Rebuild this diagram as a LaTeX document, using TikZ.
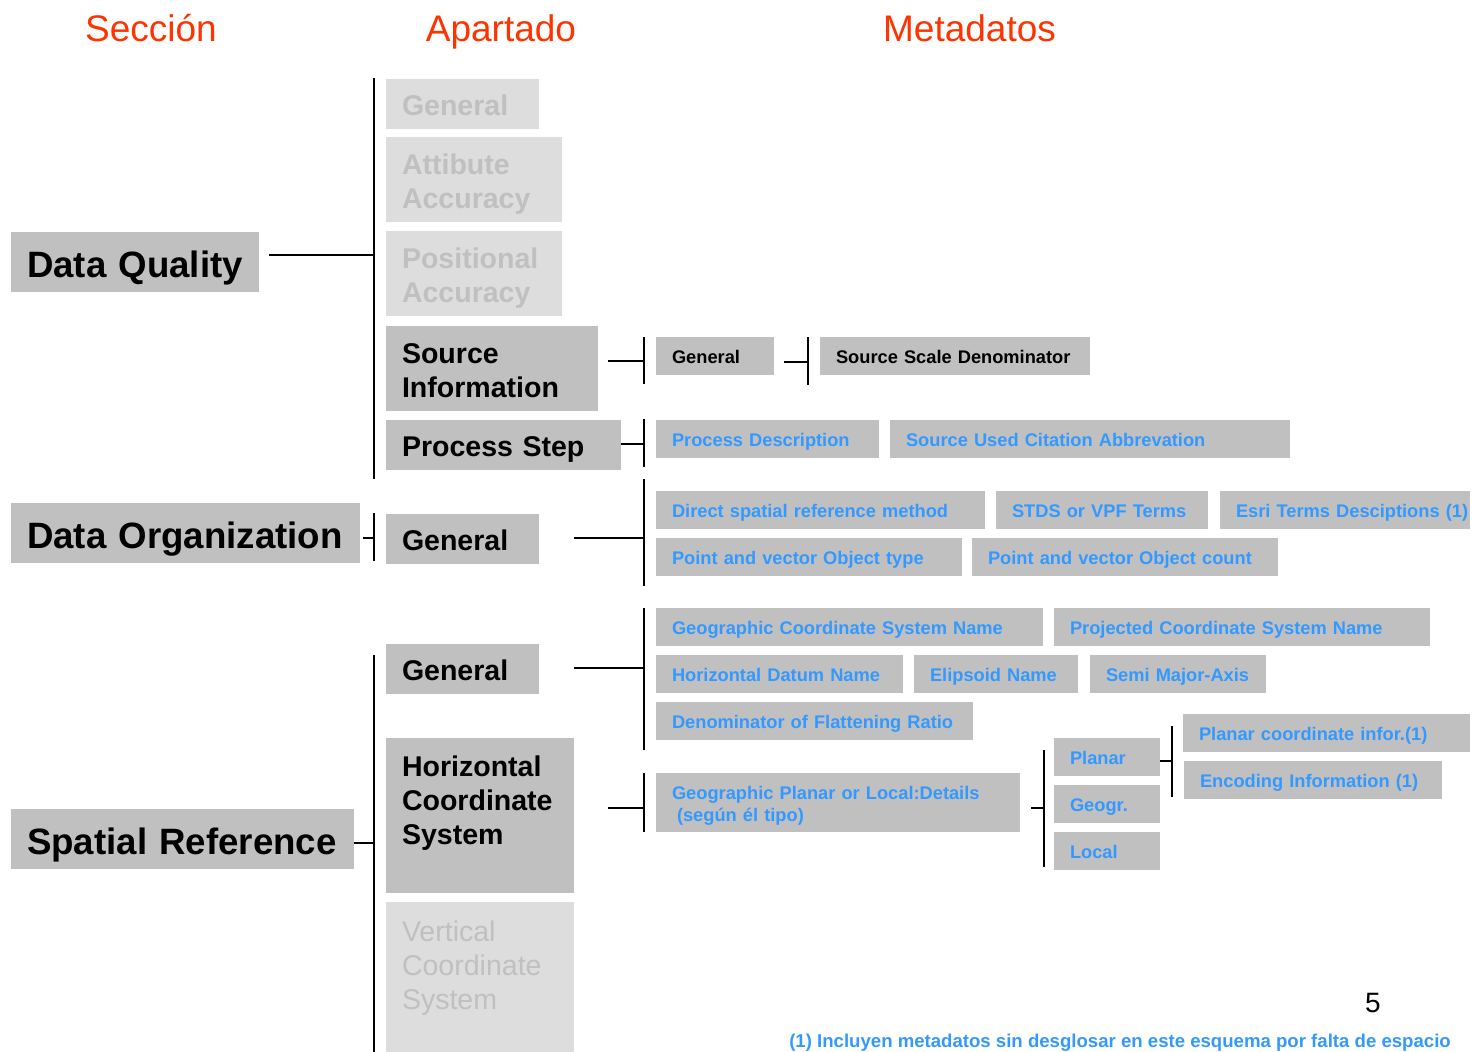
\documentclass[tikz,border=0pt]{standalone}
\usepackage{fontspec}
\setmainfont{Liberation Sans}
\definecolor{boxgrey}{HTML}{C0C0C0}
\definecolor{palegrey}{HTML}{DDDDDD}
\definecolor{paletext}{HTML}{C0C0C0}
\definecolor{metablue}{HTML}{3399FF}
\definecolor{headred}{HTML}{FF3300}

% line box of the font: ascent on the first line, descent on the last
\newcommand\topstrut{\rule{0pt}{1.05em}}
\newcommand\botstrut{\rule[-0.212em]{0pt}{0.212em}}

% \panel{style}{name}{x1}{y1}{x2}{y2}{text}: grey box from (x1,y1) to (x2,y2)
\newcommand\panel[7]{%
  \pgfmathsetlengthmacro\panelw{(#5-#3-32)*0.75pt}%
  \pgfmathsetlengthmacro\panelh{(#6-#4)*0.75pt}%
  \node[#1, text width=\panelw, minimum height=\panelh] (#2) at ({(#3+#5)/2},{(#4+#6)/2}) {\topstrut#7\botstrut};}

\tikzset{
  panel/.style={inner xsep=12pt, inner ysep=0pt, align=left, anchor=center},
  sect/.style={panel, fill=boxgrey, font=\fontsize{27.5}{33}\selectfont\bfseries},
  part/.style={panel, fill=boxgrey, font=\fontsize{21.4}{25.5}\selectfont\bfseries},
  partoff/.style={part, fill=palegrey, text=paletext},
  partoffreg/.style={partoff, font=\fontsize{21.4}{25.5}\selectfont},
  meta/.style={panel, fill=boxgrey, text=metablue, font=\fontsize{13.7}{16.5}\selectfont\bfseries},
  metak/.style={meta, text=black},
  head/.style={text=headred, anchor=base, font=\fontsize{27.75}{33}\selectfont},
  link/.style={draw=black, line width=0.9pt},
}

\begin{document}
\hyphenpenalty=10000 \exhyphenpenalty=10000
\begin{tikzpicture}[x=0.75pt, y=-0.75pt]
\useasboundingbox (0,0) rectangle (1472,1052);

% column headings
\node[head] (hsec) at (151,42) {Sección};
\node[head] (hapt) at (501,42) {Apartado};
\node[head] (hmeta) at (969.5,42) {Metadatos};

% sections
\panel{sect}{dq}{11}{232}{259}{292}{Data~Quality}
\panel{sect}{do}{11}{503}{360}{563}{Data~Organization}
\panel{sect}{sr}{11}{809}{354}{869}{Spatial~Reference}

% subsections
\panel{partoff}{dqgen}{386}{79}{539}{129}{General}
\panel{partoff}{att}{386}{137}{562}{222}{Attibute\\Accuracy}
\panel{partoff}{pos}{386}{231}{562}{316}{Positional\\Accuracy}
\panel{part}{src}{386}{326}{598}{411}{Source\\Information}
\panel{part}{proc}{386}{420}{621}{470}{Process~Step}
\panel{part}{dogen}{386}{514}{539}{564}{General}
\panel{part}{srgen}{386}{644}{539}{694}{General}
\panel{part}{hcs}{386}{738}{574}{893}{Horizontal\\Coordinate\\System\\~}
\panel{partoffreg}{vcs}{386}{902}{574}{1060}{Vertical\\Coordinate\\System\\~}

% metadata items
\panel{metak}{srcgen}{656}{337}{774}{375}{General}
\panel{metak}{ssd}{820}{337}{1090}{375}{Source~Scale~Denominator}
\panel{meta}{pd}{656}{420}{879}{458}{Process~Description}
\panel{meta}{suca}{890}{420}{1290}{458}{Source~Used~Citation~Abbrevation}
\panel{meta}{dsrm}{656}{491}{985}{529}{Direct~spatial~reference~method}
\panel{meta}{stds}{996}{491}{1208}{529}{STDS~or~VPF~Terms}
\panel{meta}{esri}{1220}{491}{1470}{529}{\mbox{Esri~Terms~Desciptions~(1)}}
\panel{meta}{pvot}{656}{538}{962}{576}{Point~and~vector~Object~type}
\panel{meta}{pvoc}{972}{538}{1278}{576}{Point~and~vector~Object~count}
\panel{meta}{gcsn}{656}{608}{1043}{646}{Geographic~Coordinate~System~Name}
\panel{meta}{pcsn}{1054}{608}{1430}{646}{Projected~Coordinate~System~Name}
\panel{meta}{hdn}{656}{655}{903}{693}{Horizontal~Datum~Name}
\panel{meta}{eln}{914}{655}{1078}{693}{Elipsoid~Name}
\panel{meta}{sma}{1090}{655}{1266}{693}{Semi~Major-Axis}
\panel{meta}{dfr}{656}{702}{973}{740}{Denominator~of~Flattening~Ratio}
\panel{meta}{gpl}{656}{773}{1020}{832}{Geographic~Planar~or~Local:Details\\\hspace*{3.75pt}(según~él~tipo)}
\panel{meta}{planar}{1054}{738}{1160}{776}{Planar}
\panel{meta}{geogr}{1054}{785}{1160}{823}{Geogr.}
\panel{meta}{local}{1054}{832}{1160}{870}{Local}
\panel{meta}{pci}{1183}{714}{1470}{752}{Planar~coordinate~infor.(1)}
\panel{meta}{enc}{1184}{761}{1442}{799}{Encoding~Information~(1)}

% bracket lines: Data Quality
\coordinate (dqa) at (269,255);  \coordinate (dqj) at (374,255);
\coordinate (dqt) at (374,78);   \coordinate (dqb) at (374,479);
\draw[link] (dqt) -- (dqb);  \draw[link] (dqa) -- (dqj);
% Data Organization
\coordinate (doa) at (363,538);  \coordinate (doj) at (374,538);
\coordinate (dot) at (374,513);  \coordinate (dob) at (374,561);
\draw[link] (dot) -- (dob);  \draw[link] (doa) -- (doj);
% Spatial Reference
\coordinate (sra) at (354,843);  \coordinate (srj) at (374,843);
\coordinate (srt) at (374,655);  \coordinate (srb) at (374,1060);
\draw[link] (srt) -- (srb);  \draw[link] (sra) -- (srj);

% Source Information -> General
\coordinate (sia) at (608,361);  \coordinate (sij) at (644,361);
\coordinate (sit) at (644,337);  \coordinate (sib) at (644,384);
\draw[link] (sit) -- (sib);  \draw[link] (sia) -- (sij);
% General -> Source Scale Denominator
\coordinate (sga) at (784,362);  \coordinate (sgj) at (808,362);
\coordinate (sgt) at (808,337);  \coordinate (sgb) at (808,385);
\draw[link] (sgt) -- (sgb);  \draw[link] (sga) -- (sgj);
% Process Step
\coordinate (psj) at (644,444);
\coordinate (pst) at (644,419);  \coordinate (psb) at (644,467);
\draw[link] (pst) -- (psb);  \draw[link] (proc.east |- psj) -- (psj);
% Data Organization / General
\coordinate (oga) at (574,538);  \coordinate (ogj) at (644,538);
\coordinate (ogt) at (644,479);  \coordinate (ogb) at (644,586);
\draw[link] (ogt) -- (ogb);  \draw[link] (oga) -- (ogj);
% Spatial Reference / General
\coordinate (rga) at (574,668);  \coordinate (rgj) at (644,668);
\coordinate (rgt) at (644,608);  \coordinate (rgb) at (644,750);
\draw[link] (rgt) -- (rgb);  \draw[link] (rga) -- (rgj);
% Horizontal Coordinate System
\coordinate (hca) at (608,808);  \coordinate (hcj) at (644,808);
\coordinate (hct) at (644,773);  \coordinate (hcb) at (644,832);
\draw[link] (hct) -- (hcb);  \draw[link] (hca) -- (hcj);
% Geographic Planar or Local
\coordinate (gpa) at (1031,808); \coordinate (gpj) at (1044,808);
\coordinate (gpt) at (1044,750); \coordinate (gpb) at (1044,867);
\draw[link] (gpt) -- (gpb);  \draw[link] (gpa) -- (gpj);
% Planar
\coordinate (plj) at (1172,761);
\coordinate (plt) at (1172,726); \coordinate (plb) at (1172,797);
\draw[link] (plt) -- (plb);  \draw[link] (planar.east |- plj) -- (plj);

% page number and footnote
\node[anchor=base, font=\fontsize{21}{25}\selectfont] (pagenum) at (1373,1012) {5};
\node[anchor=base west, inner sep=0pt, text=metablue, font=\fontsize{13.95}{16.5}\selectfont\bfseries] (foot) at (789,1047)
  {(1) Incluyen metadatos sin desglosar en este esquema por falta de espacio};
\end{tikzpicture}
\end{document}
